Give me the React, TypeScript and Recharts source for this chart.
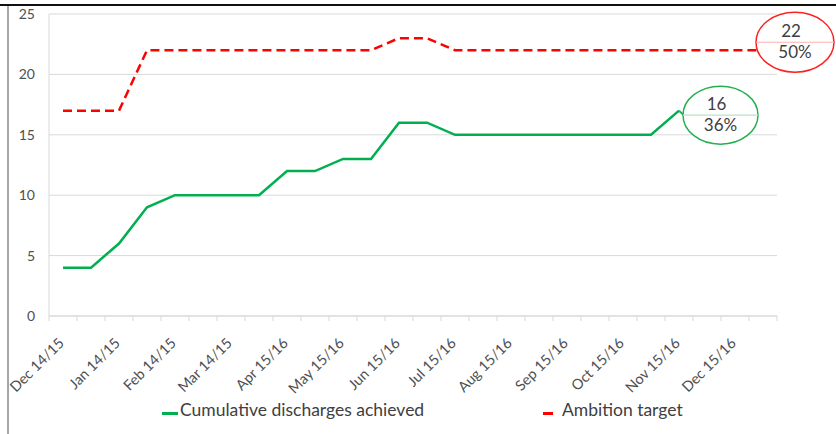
import React from "react";
import { LineChart, Line, XAxis, YAxis, CartesianGrid, LabelList } from "recharts";

const months = [
  "Dec 14/15", "Jan 14/15", "Feb 14/15", "Mar 14/15", "Apr 15/16", "May 15/16",
  "Jun 15/16", "Jul 15/16", "Aug 15/16", "Sep 15/16", "Oct 15/16", "Nov 15/16", "Dec 15/16",
];
// two reporting points per month
const achieved = [4, 4, 6, 9, 10, 10, 10, 10, 12, 12, 13, 13, 16, 16, 15, 15, 15, 15, 15, 15, 15, 15, 17];
const target = [17, 17, 17, 22, 22, 22, 22, 22, 22, 22, 22, 22, 23, 23, 22, 22, 22, 22, 22, 22, 22, 22, 22, 22, 22, 22];
const yTicks = [0, 5, 10, 15, 20, 25];
const achievedCallout = ["16", "36%"];
const targetCallout = ["22", "50%"];

const GREEN = "#00b050";
const RED = "#ff0000";
const FONT = "Lato, 'Open Sans', sans-serif";

const W = 836;
const H = 434;
const M = { top: 14, right: 59, left: 0, bottom: 58 };
const Y_W = 49;
const N = months.length * 2;
const HALF_BAND = (W - M.left - M.right - Y_W) / N / 2;

const data = Array.from({ length: N }, (_, i) => ({
  key: `${months[Math.floor(i / 2)]}-${i % 2}`,
  month: months[Math.floor(i / 2)],
  achieved: achieved[i],
  target: target[i],
}));

function PeriodTick(props: any) {
  const { x, y, index } = props;
  const label = index % 2 === 0 ? data[index].month : null;
  const tx = x + 2;
  const ty = y + 28;
  return (
    <g>
      <line x1={x - HALF_BAND} y1={y} x2={x - HALF_BAND} y2={y + 5} stroke="#d9d9d9" />
      {index === N - 1 && (
        <line x1={x + HALF_BAND} y1={y} x2={x + HALF_BAND} y2={y + 5} stroke="#d9d9d9" />
      )}
      {label && (
        <text
          x={tx}
          y={ty}
          textAnchor="end"
          transform={`rotate(-45, ${tx}, ${ty})`}
          fill="#505050"
          fontSize={14.5}
          fontFamily={FONT}
        >
          {label}
        </text>
      )}
    </g>
  );
}

function callout(lines: string[], color: string, soft: string, last: number, dx: number, dy: number, rx: number, ry: number) {
  return (props: any) => {
    const { x, y, index } = props;
    if (index !== last) return null;
    const cx = x + dx;
    const cy = y + dy;
    return (
      <g>
        <line x1={x} y1={y} x2={cx - rx + 1} y2={cy} stroke={color} strokeWidth={2} />
        <ellipse cx={cx} cy={cy} rx={rx} ry={ry} fill="#fff" stroke={color} strokeWidth={1.5} />
        <line x1={cx - rx} y1={cy} x2={cx + rx} y2={cy} stroke={soft} strokeWidth={1.2} />
        <text x={cx - 4} y={cy - 5} textAnchor="middle" fill="#404040" fontSize={17} fontFamily={FONT}>
          {lines[0]}
        </text>
        <text x={cx} y={cy + 16} textAnchor="middle" fill="#404040" fontSize={17} fontFamily={FONT}>
          {lines[1]}
        </text>
      </g>
    );
  };
}

export default function App() {
  return (
    <div style={{ position: "absolute", left: 0, top: 0, width: W, height: H, background: "#fff", overflow: "hidden" }}>
      <div style={{ position: "absolute", left: 0, top: 4, width: W, height: 2, background: "#111" }} />
      <div style={{ position: "absolute", left: 7, top: 6, width: 1.5, height: H, background: "#a6a6a6" }} />
      <LineChart width={W} height={H} data={data} margin={M}>
        <CartesianGrid vertical={false} stroke="#d9d9d9" />
        <XAxis
          dataKey="key"
          scale="band"
          interval={0}
          tickLine={false}
          tickSize={0}
          tickMargin={0}
          height={60}
          axisLine={{ stroke: "#d9d9d9" }}
          tick={<PeriodTick />}
        />
        <YAxis
          width={Y_W}
          domain={[0, 25]}
          ticks={yTicks}
          tickLine={false}
          tickMargin={8}
          axisLine={{ stroke: "#d9d9d9" }}
          tick={{ fill: "#505050", fontSize: 14, fontFamily: FONT }}
        />
        <Line
          dataKey="achieved"
          stroke={GREEN}
          strokeWidth={2.5}
          dot={false}
          isAnimationActive={false}
          strokeLinejoin="miter"
        >
          <LabelList dataKey="achieved" content={callout(achievedCallout, "#22b050", "#b6e4c6", achieved.length - 1, 41.5, 4.5, 37.5, 29)} />
        </Line>
        <Line
          dataKey="target"
          stroke={RED}
          strokeWidth={2.5}
          strokeDasharray="9 5"
          dot={false}
          isAnimationActive={false}
        >
          <LabelList dataKey="target" content={callout(targetCallout, "#ff2020", "#ffb0b0", target.length - 1, 32, -8, 39, 30)} />
        </Line>
      </LineChart>
      <div style={{ position: "absolute", left: 162, top: 412, width: 16, height: 2.5, background: GREEN }} />
      <div style={{ position: "absolute", left: 180, top: 399, fontFamily: FONT, fontSize: 17.5, color: "#404040", whiteSpace: "nowrap" }}>
        Cumulative discharges achieved
      </div>
      <div style={{ position: "absolute", left: 543, top: 412, width: 10, height: 2.5, background: RED }} />
      <div style={{ position: "absolute", left: 562, top: 399, fontFamily: FONT, fontSize: 17.5, color: "#404040", whiteSpace: "nowrap" }}>
        Ambition target
      </div>
    </div>
  );
}
